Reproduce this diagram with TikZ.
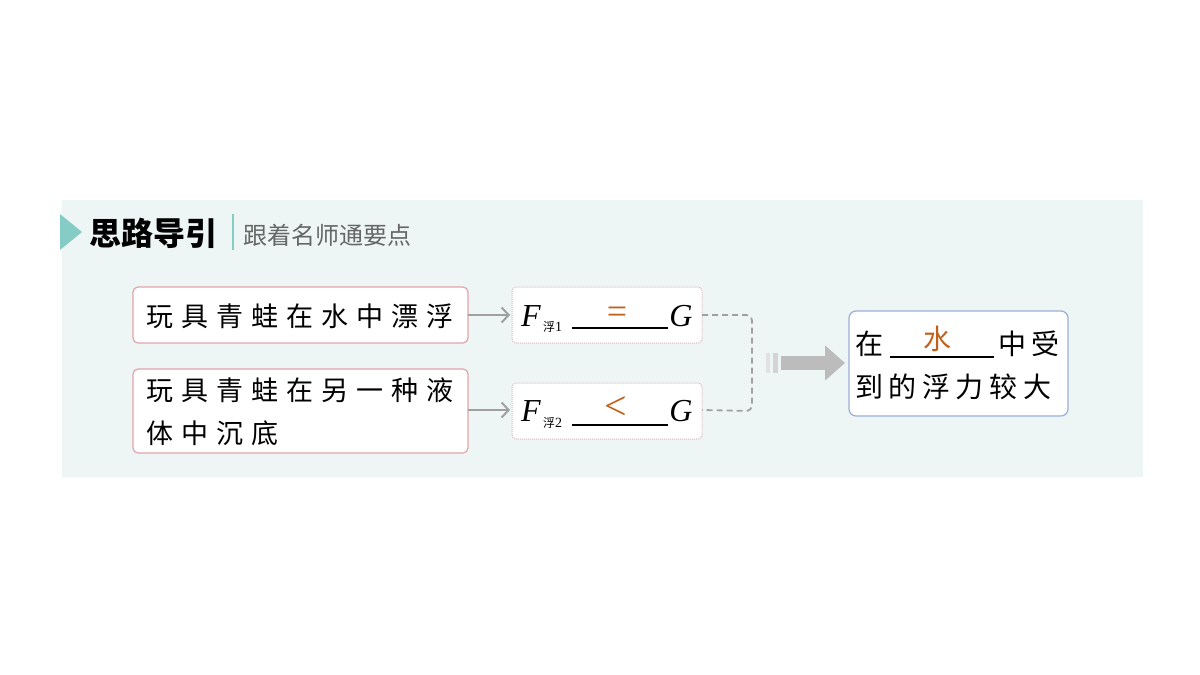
\documentclass[tikz,border=0pt]{standalone}
\usepackage{fontspec}
\setmainfont{Liberation Serif}
\newfontfamily\cjk{Noto Sans CJK SC}
\usetikzlibrary{arrows.meta}
\definecolor{panel}{HTML}{EEF6F5}
\definecolor{teal}{HTML}{86CCC6}
\definecolor{pinkb}{HTML}{E2A3AC}
\definecolor{dotb}{HTML}{D8B8BC}
\definecolor{blueb}{HTML}{9AAFD6}
\definecolor{ans}{HTML}{C0601A}
\definecolor{conn}{HTML}{A0A0A0}
\tikzset{
 x=1pt,y=-1pt,
 txt/.style={font=\cjk\fontsize{27}{38}\selectfont\addfontfeature{LetterSpace=30}, anchor=west, inner sep=0},
 cbox/.style={draw=pinkb, line width=1.2pt, rounded corners=5pt, fill=white},
 fbox/.style={draw=dotb, densely dotted, line width=1pt, rounded corners=4pt, fill=white},
 rbox/.style={draw=blueb, line width=1.2pt, rounded corners=7pt, fill=white},
 arr/.style={draw=conn, line width=2pt, -{Straight Barb[length=7pt,width=15pt]}},
 blank/.style={draw=black, line width=1.2pt}
}
\begin{document}
\begin{tikzpicture}
\useasboundingbox (0,0) rectangle (1200,675);
\fill[white] (0,0) rectangle (1200,675);
\fill[panel] (62,200) rectangle (1143,477);
% header
\fill[teal] (60,214) -- (82,232) -- (60,250) -- cycle;
\node[anchor=west, inner sep=0, font=\cjk\fontsize{32}{34}\selectfont\bfseries] (title) at (89,233) {思路导引};
\draw[teal, line width=1.5pt] (233,214) -- (233,250);
\node[anchor=west, inner sep=0, text=black!60, font=\cjk\fontsize{24}{26}\selectfont] (sub) at (243,235) {跟着名师通要点};
% left boxes
\path[cbox] (133,287) rectangle (468,343);
\coordinate (b1) at (468,315);
\node[txt] (t1) at (146,316) {玩具青蛙在水中漂浮};
\path[cbox] (133,369) rectangle (468,453);
\coordinate (b2) at (468,410);
\node[txt] (t2) at (146,390) {玩具青蛙在另一种液};
\node[txt] (t3) at (146,433) {体中沉底};
% formula boxes
\path[fbox] (512,287) rectangle (702,343);
\path[fbox] (512,383) rectangle (702,439);
\coordinate (f1) at (510,315);
\coordinate (f2) at (510,410);
\coordinate (f1r) at (702,315);
\coordinate (f2r) at (702,410);
\draw[arr] (b1) -- (f1);
\draw[arr] (b2) -- (f2);
\node[inner sep=0, font=\fontsize{32}{34}\selectfont\itshape] (F1) at (531,316) {F};
\node[inner sep=0, anchor=west, font=\cjk\fontsize{12}{12}\selectfont] (s1) at (543,327) {浮{\rmfamily\fontsize{14}{14}\selectfont 1}};
\draw[blank] (572,328) -- (668,328);
\node[inner sep=0, text=ans, font=\fontsize{36}{36}\selectfont] (eq) at (617,315) {=};
\node[inner sep=0, font=\fontsize{32}{34}\selectfont\itshape] (G1) at (681,316) {G};
\node[inner sep=0, font=\fontsize{32}{34}\selectfont\itshape] (F2) at (531,411) {F};
\node[inner sep=0, anchor=west, font=\cjk\fontsize{12}{12}\selectfont] (s2) at (543,423) {浮{\rmfamily\fontsize{14}{14}\selectfont 2}};
\draw[blank] (572,425) -- (668,425);
\node[inner sep=0, text=ans, font=\fontsize{40}{40}\selectfont] (lt) at (616,408) {<};
\node[inner sep=0, font=\fontsize{32}{34}\selectfont\itshape] (G2) at (681,411) {G};
% dashed connector
\draw[conn, line width=1.8pt, dash pattern=on 6pt off 4pt, rounded corners=6pt] (f1r) -- (752,315) -- (752,411) -- (f2r);
% big arrow
\fill[conn!30] (766,353) rectangle (770,373);
\fill[conn!45] (773,353) rectangle (778,373);
\coordinate (ba) at (781,363);
\coordinate (bb) at (845,363);
\draw[conn!70, line width=14pt, -{Triangle[length=20pt,width=34pt]}] (ba) -- (bb);
% result
\path[rbox] (849,311) rectangle (1068,416);
\node[inner sep=0, anchor=west, font=\cjk\fontsize{28}{30}\selectfont] (r1) at (855,344) {在};
\draw[blank] (890,357) -- (994,357);
\node[inner sep=0, text=ans, font=\cjk\fontsize{28}{30}\selectfont] (w) at (937,339) {水};
\node[inner sep=0, anchor=west, font=\cjk\fontsize{28}{30}\selectfont\addfontfeature{LetterSpace=20}] (r2) at (998,344) {中受};
\node[inner sep=0, anchor=west, font=\cjk\fontsize{28}{30}\selectfont\addfontfeature{LetterSpace=20}] (r3) at (855,387) {到的浮力较大};
\end{tikzpicture}
\end{document}
